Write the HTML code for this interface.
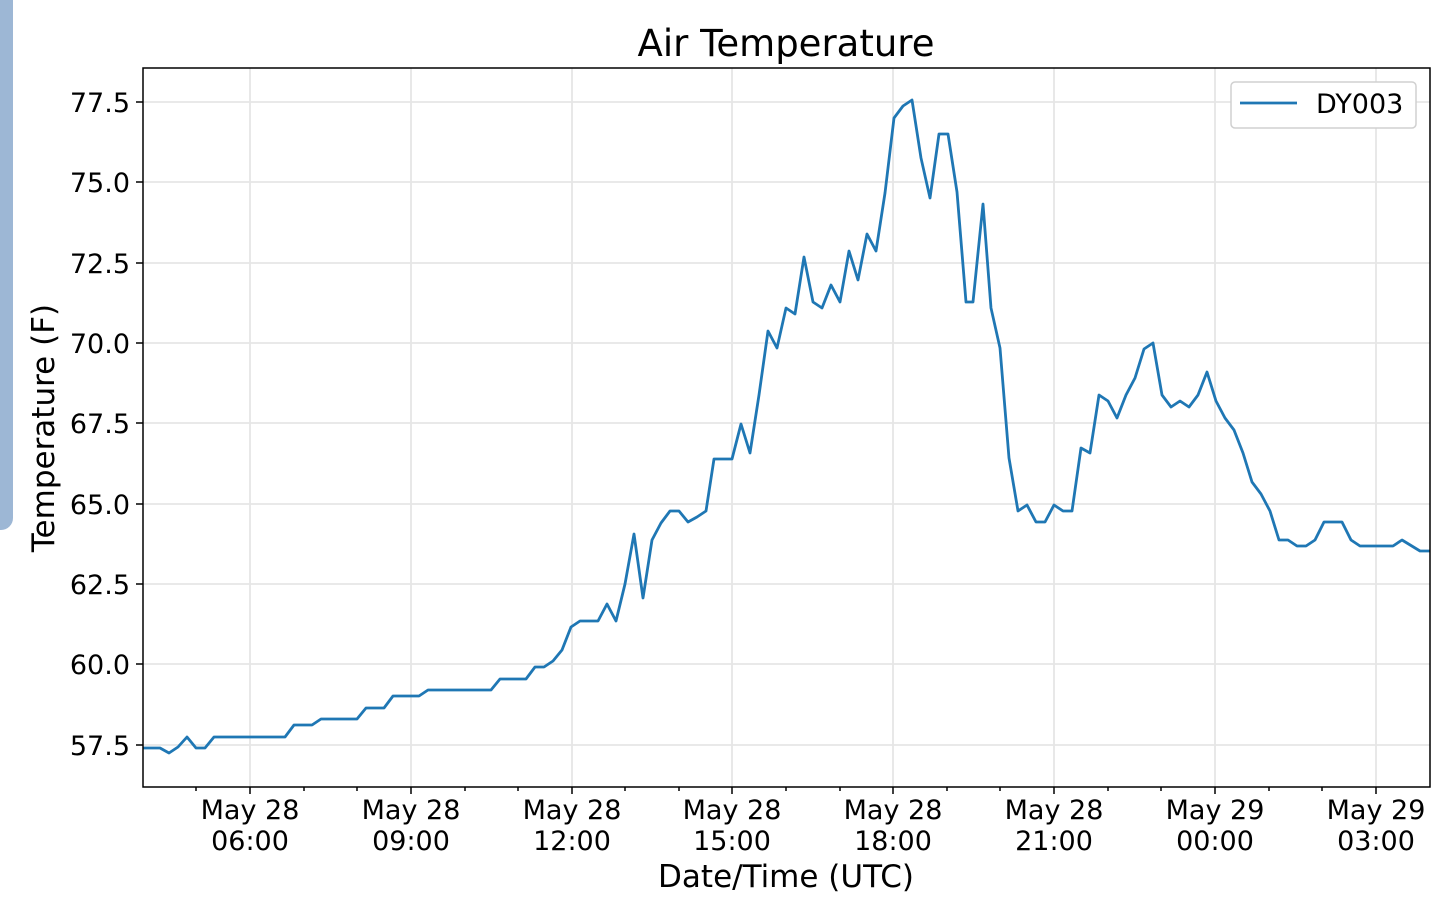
<!DOCTYPE html>
<html><head><meta charset="utf-8"><style>
body{margin:0;background:#fff;width:1440px;height:913px;overflow:hidden;position:relative}
svg text{font-family:"DejaVu Sans","Liberation Sans",sans-serif;fill:#000}
</style></head><body>
<div style="position:absolute;left:0;top:0;width:13px;height:530px;background:#9db7d5;border-bottom-right-radius:12px"></div>
<svg width="1440" height="913" style="position:absolute;left:0;top:0">
<g stroke="#e6e6e6" stroke-width="1.8">
<line x1="143" x2="1430" y1="102" y2="102"/><line x1="143" x2="1430" y1="182" y2="182"/>
<line x1="143" x2="1430" y1="263" y2="263"/><line x1="143" x2="1430" y1="343" y2="343"/>
<line x1="143" x2="1430" y1="423" y2="423"/><line x1="143" x2="1430" y1="504" y2="504"/>
<line x1="143" x2="1430" y1="584" y2="584"/><line x1="143" x2="1430" y1="664" y2="664"/>
<line x1="143" x2="1430" y1="745" y2="745"/>
<line x1="250" x2="250" y1="68" y2="787"/><line x1="411" x2="411" y1="68" y2="787"/>
<line x1="572" x2="572" y1="68" y2="787"/><line x1="732" x2="732" y1="68" y2="787"/>
<line x1="893" x2="893" y1="68" y2="787"/><line x1="1054" x2="1054" y1="68" y2="787"/>
<line x1="1215" x2="1215" y1="68" y2="787"/><line x1="1376" x2="1376" y1="68" y2="787"/>
</g>
<polyline fill="none" stroke="#1f77b4" stroke-width="2.8" stroke-linejoin="round" points="143,748 160,748 169,753 178,747 187,737 196,748 205,748 214,737 285,737 294,725 312,725 321,719 357,719 366,708 384,708 393,696 419,696 428,690 491,690 500,679 526,679 535,667 544,667 553,661 562,650 571,627 580,621 598,621 607,604 616,621 625,584 634,534 643,598 652,540 661,523 670,511 679,511 688,522 697,517 706,511 714,459 732,459 741,424 750,453 759,395 768,331 777,348 786,308 795,314 804,257 813,302 822,308 831,285 840,302 849,251 858,280 867,234 876,251 885,193 894,118 903,106 912,100 921,158 930,198 939,134 948,134 957,192 966,302 973,302 983,204 991,308 1000,348 1009,458 1018,511 1027,505 1036,522 1045,522 1054,505 1063,511 1072,511 1081,448 1090,453 1099,395 1108,401 1117,418 1126,395 1135,378 1144,349 1153,343 1162,395 1171,407 1180,401 1189,407 1198,395 1207,372 1216,401 1225,418 1234,430 1243,453 1252,482 1261,494 1270,511 1279,540 1288,540 1297,546 1306,546 1315,540 1324,522 1342,522 1351,540 1360,546 1393,546 1402,540 1420,551 1430,551"/>
<rect x="143" y="68" width="1287" height="719" fill="none" stroke="#000" stroke-width="1.5"/>
<g stroke="#000" stroke-width="1.5">
<line x1="136" x2="143" y1="102" y2="102"/><line x1="136" x2="143" y1="182" y2="182"/>
<line x1="136" x2="143" y1="263" y2="263"/><line x1="136" x2="143" y1="343" y2="343"/>
<line x1="136" x2="143" y1="423" y2="423"/><line x1="136" x2="143" y1="504" y2="504"/>
<line x1="136" x2="143" y1="584" y2="584"/><line x1="136" x2="143" y1="664" y2="664"/>
<line x1="136" x2="143" y1="745" y2="745"/>
<line x1="250" x2="250" y1="787" y2="794"/><line x1="411" x2="411" y1="787" y2="794"/>
<line x1="572" x2="572" y1="787" y2="794"/><line x1="732" x2="732" y1="787" y2="794"/>
<line x1="893" x2="893" y1="787" y2="794"/><line x1="1054" x2="1054" y1="787" y2="794"/>
<line x1="1215" x2="1215" y1="787" y2="794"/><line x1="1376" x2="1376" y1="787" y2="794"/>
<line x1="196" x2="196" y1="787" y2="791"/><line x1="304" x2="304" y1="787" y2="791"/>
<line x1="357" x2="357" y1="787" y2="791"/><line x1="465" x2="465" y1="787" y2="791"/>
<line x1="518" x2="518" y1="787" y2="791"/><line x1="625" x2="625" y1="787" y2="791"/>
<line x1="679" x2="679" y1="787" y2="791"/><line x1="786" x2="786" y1="787" y2="791"/>
<line x1="840" x2="840" y1="787" y2="791"/><line x1="947" x2="947" y1="787" y2="791"/>
<line x1="1000" x2="1000" y1="787" y2="791"/><line x1="1108" x2="1108" y1="787" y2="791"/>
<line x1="1161" x2="1161" y1="787" y2="791"/><line x1="1269" x2="1269" y1="787" y2="791"/>
<line x1="1322" x2="1322" y1="787" y2="791"/>
</g>
<g font-size="27" text-anchor="end">
<text x="130" y="112">77.5</text><text x="130" y="192">75.0</text><text x="130" y="273">72.5</text>
<text x="130" y="353">70.0</text><text x="130" y="433">67.5</text><text x="130" y="514">65.0</text>
<text x="130" y="594">62.5</text><text x="130" y="674">60.0</text><text x="130" y="755">57.5</text>
</g>
<g font-size="27" text-anchor="middle">
<text x="250" y="819">May 28</text><text x="250" y="850">06:00</text>
<text x="411" y="819">May 28</text><text x="411" y="850">09:00</text>
<text x="572" y="819">May 28</text><text x="572" y="850">12:00</text>
<text x="732" y="819">May 28</text><text x="732" y="850">15:00</text>
<text x="893" y="819">May 28</text><text x="893" y="850">18:00</text>
<text x="1054" y="819">May 28</text><text x="1054" y="850">21:00</text>
<text x="1215" y="819">May 29</text><text x="1215" y="850">00:00</text>
<text x="1376" y="819">May 29</text><text x="1376" y="850">03:00</text>
<text x="786" y="887" font-size="31">Date/Time (UTC)</text>
<text x="786" y="56" font-size="37">Air Temperature</text>
<text transform="translate(54,428) rotate(-90)" font-size="31">Temperature (F)</text>
</g>
<rect x="1231" y="82" width="185" height="46" rx="4" fill="#fff" stroke="#d0d0d0" stroke-width="1.5"/>
<line x1="1240" x2="1297" y1="103" y2="103" stroke="#1f77b4" stroke-width="2.8"/>
<text x="1316" y="113" font-size="27">DY003</text>
</svg>
</body></html>
